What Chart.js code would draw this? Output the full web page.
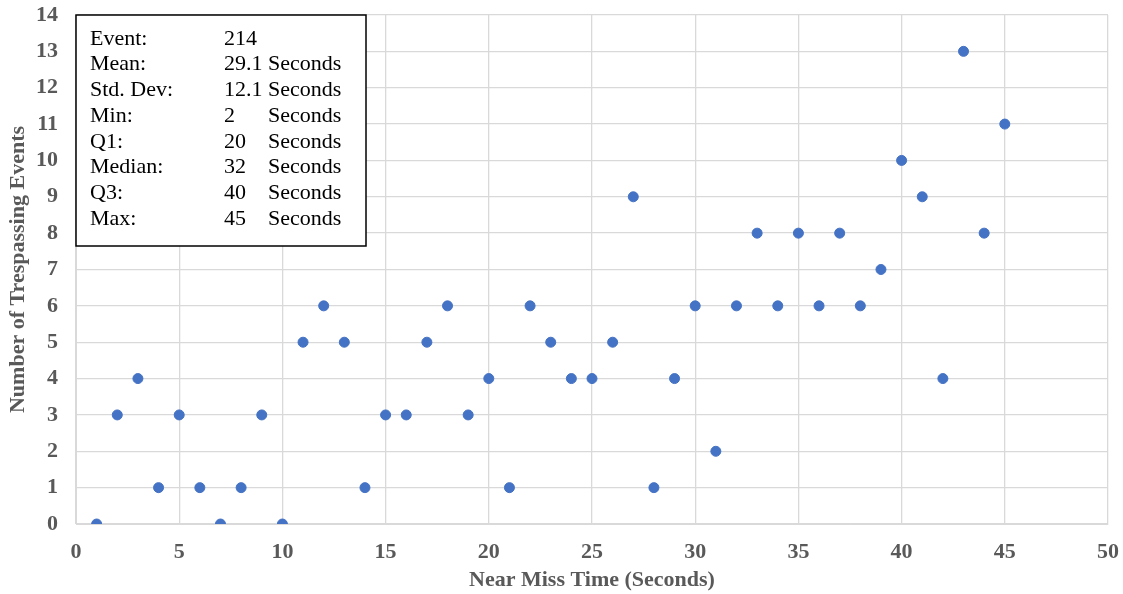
<!DOCTYPE html>
<html>
<head>
<meta charset="utf-8">
<script src="https://cdn.jsdelivr.net/npm/chart.js@4"></script>
<style>
  html, body { margin: 0; padding: 0; background: #fff; }
  #wrap { width: 1123px; height: 594px; }
</style>
</head>
<body>
<div id="wrap"><canvas id="myChart"></canvas></div>
<script>
const nearMissTime = [1, 2, 3, 4, 5, 6, 7, 8, 9, 10, 11, 12, 13, 14, 15, 16, 17, 18, 19, 20, 21, 22, 23,
  24, 25, 26, 27, 28, 29, 30, 31, 32, 33, 34, 35, 36, 37, 38, 39, 40, 41, 42, 43, 44, 45];
const eventCounts = [0, 3, 4, 1, 3, 1, 0, 1, 3, 0, 5, 6, 5, 1, 3, 3, 5, 6, 3, 4, 1, 6, 5,
  4, 4, 5, 9, 1, 4, 6, 2, 6, 8, 6, 8, 6, 8, 6, 7, 10, 9, 4, 13, 8, 11];
const statLabels = ["Event:", "Mean:", "Std. Dev:", "Min:", "Q1:", "Median:", "Q3:", "Max:"];
const statValues = ["214", "29.1", "12.1", "2", "20", "32", "40", "45"];
const statUnits = ["", "Seconds", "Seconds", "Seconds", "Seconds", "Seconds", "Seconds", "Seconds"];

const points = nearMissTime.map((x, i) => ({ x: x, y: eventCounts[i] }));

const serif = "'Liberation Serif', 'Times New Roman', serif";
const grey = "#595959";

// stats box in the top-left corner of the plot
const statsBox = {
  id: "statsBox",
  afterDatasetsDraw(chart) {
    const c = chart.ctx;
    const a = chart.chartArea;
    const left = a.left, top = a.top, w = 290, h = 231;
    c.save();
    c.fillStyle = "#fff";
    c.fillRect(left, top, w, h);
    c.strokeStyle = "#000";
    c.lineWidth = 1.5;
    c.strokeRect(left, top, w, h);
    c.fillStyle = "#000";
    c.font = "22px " + serif;
    c.textBaseline = "middle";
    statLabels.forEach((lab, i) => {
      const y = top + 24 + i * 25.7;
      c.fillText(lab, left + 14, y);
      c.fillText(statValues[i], left + 148, y);
      if (statUnits[i]) c.fillText(statUnits[i], left + 192, y);
    });
    c.restore();
  },
};

// drop the label overhang padding so layout.padding sets the plot edges
function noOverhang(s) {
  s.paddingTop = 0;
  s.paddingBottom = 0;
  s.paddingLeft = 0;
  s.paddingRight = 0;
}

new Chart(document.getElementById("myChart"), {
  type: "scatter",
  data: {
    datasets: [
      {
        data: points,
        backgroundColor: "#4472C4",
        borderColor: "#4472C4",
        pointRadius: 5,
        pointHoverRadius: 5,
      },
    ],
  },
  options: {
    responsive: true,
    maintainAspectRatio: false,
    animation: false,
    layout: { padding: { top: 15, right: 15 } },
    plugins: {
      legend: { display: false },
      tooltip: { enabled: false },
    },
    scales: {
      x: {
        min: 0,
        max: 50,
        ticks: { stepSize: 5, color: grey, font: { family: serif, size: 22, weight: "bold" }, padding: 15 },
        grid: { color: "#d9d9d9", lineWidth: 1.3, drawTicks: false },
        border: { color: "#d9d9d9" },
        title: {
          display: true,
          text: "Near Miss Time (Seconds)",
          color: grey,
          font: { family: serif, size: 22, weight: "bold" },
          padding: { top: 4, bottom: 0 },
        },
        afterFit(s) { s.height = 70; noOverhang(s); },
      },
      y: {
        min: 0,
        max: 14,
        ticks: { stepSize: 1, color: grey, font: { family: serif, size: 22, weight: "bold" }, padding: 18 },
        grid: { color: "#d9d9d9", lineWidth: 1.3, drawTicks: false },
        border: { color: "#d9d9d9" },
        title: {
          display: true,
          text: "Number of Trespassing Events",
          color: grey,
          font: { family: serif, size: 22, weight: "bold" },
          padding: { top: 5, bottom: 4 },
        },
        afterFit(s) { s.width = 76; noOverhang(s); },
      },
    },
  },
  plugins: [statsBox],
});
</script>
</body>
</html>
